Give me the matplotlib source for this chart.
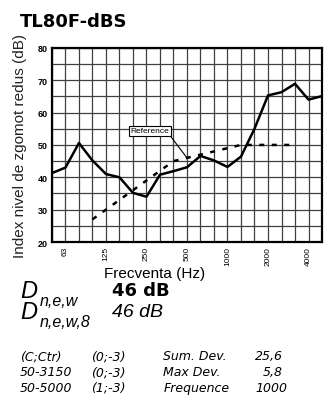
import matplotlib.pyplot as plt
import numpy as np

plt.rcParams['font.family'] = ['Liberation Sans', 'DejaVu Sans']

# third-octave bands 50 Hz .. 5000 Hz
bands = [50, 63, 80, 100, 125, 160, 200, 250, 315, 400, 500,
         630, 800, 1000, 1250, 1600, 2000, 2500, 3150, 4000, 5000]
measured = [41.3, 43.0, 50.6, 45.2, 41.0, 40.0, 35.2, 34.0, 40.8, 41.9, 43.1,
            46.6, 45.2, 43.2, 46.4, 55.0, 65.3, 66.3, 68.9, 64.0, 65.1]

# shifted reference curve, 100 Hz .. 3150 Hz
ref_bands = [100, 125, 160, 200, 250, 315, 400, 500,
             630, 800, 1000, 1250, 1600, 2000, 2500, 3150]
ref_values = [27, 30, 33, 36, 39, 42, 45, 46, 47, 48, 49, 50, 50, 50, 50, 50]

tick_bands = [63, 125, 250, 500, 1000, 2000, 4000]

pos = {f: i for i, f in enumerate(bands)}

fig = plt.figure(figsize=(3.33, 4.14), dpi=100)
ax = fig.add_axes([0.156, 0.413, 0.811, 0.469])

ax.plot([pos[f] for f in bands], measured, color='black', lw=1.8, zorder=3)
ax.plot([pos[f] for f in ref_bands], ref_values, color='black', lw=1.8,
        linestyle=(0, (2, 3)), zorder=3)

ax.set_xlim(0, len(bands) - 1)
ax.set_ylim(20, 80)
ax.set_xticks(np.arange(len(bands)), minor=True)
ax.set_yticks(np.arange(20, 81, 5), minor=True)
ax.set_xticks([pos[f] for f in tick_bands])
ax.set_xticklabels([str(f) for f in tick_bands], rotation=90, fontsize=6)
ax.set_yticks(np.arange(20, 81, 10))
ax.set_yticklabels([str(v) for v in range(20, 81, 10)], fontsize=6.5,
                   fontweight='bold')
ax.tick_params(which='both', length=0, pad=3)
ax.grid(which='both', color='0.25', lw=0.9)
ax.set_axisbelow(True)
for s in ax.spines.values():
    s.set_linewidth(1.6)

ax.set_xlabel('Frecventa (Hz)', fontsize=11)
ax.xaxis.set_label_coords(0.38, -0.125)
ax.set_ylabel('Index nivel de zgomot redus (dB)', fontsize=11, labelpad=8,
              color='#222222')

# callout for the reference curve
ax.annotate('Reference', xy=(pos[500], 46), xytext=(5.8, 54.4),
            fontsize=6, va='center', ha='left',
            bbox=dict(boxstyle='square,pad=0.2', fc='white', ec='black', lw=0.8),
            arrowprops=dict(arrowstyle='-', color='black', lw=0.8,
                            shrinkA=0, shrinkB=0, relpos=(1.0, 0.0)))

fig.text(0.06, 0.948, 'TL80F-dBS', fontsize=13, fontweight='bold',
         va='center', family=['DejaVu Sans'])

# single-number ratings
fig.text(0.06, 0.297, 'D', fontsize=17, style='italic', va='center')
fig.text(0.12, 0.272, 'n,e,w', fontsize=11.5, style='italic', va='center')
fig.text(0.335, 0.297, '46 dB', fontsize=13, fontweight='bold', va='center',
         family=['DejaVu Sans'])
fig.text(0.06, 0.245, 'D', fontsize=17, style='italic', va='center')
fig.text(0.12, 0.222, 'n,e,w,8', fontsize=11.5, style='italic', va='center')
fig.text(0.335, 0.245, '46 dB', fontsize=14, style='italic', va='center')

rows = [('(C;Ctr)', '(0;-3)', 'Sum. Dev.', '25,6'),
        ('50-3150', '(0;-3)', 'Max Dev.', '5,8'),
        ('50-5000', '(1;-3)', 'Frequence', '1000')]
block = dict(fontsize=9, style='italic', va='center', family=['DejaVu Sans'])
for k, (a, b, c, d) in enumerate(rows):
    y = 0.138 - k * 0.038
    fig.text(0.06, y, a, **block)
    fig.text(0.273, y, b, **block)
    fig.text(0.49, y, c, **block)
    if d == '1000':
        fig.text(0.766, y, d, **block)
    else:
        fig.text(0.85, y, d, ha='right', **block)

fig.savefig('out.png', dpi=100, facecolor='white')
